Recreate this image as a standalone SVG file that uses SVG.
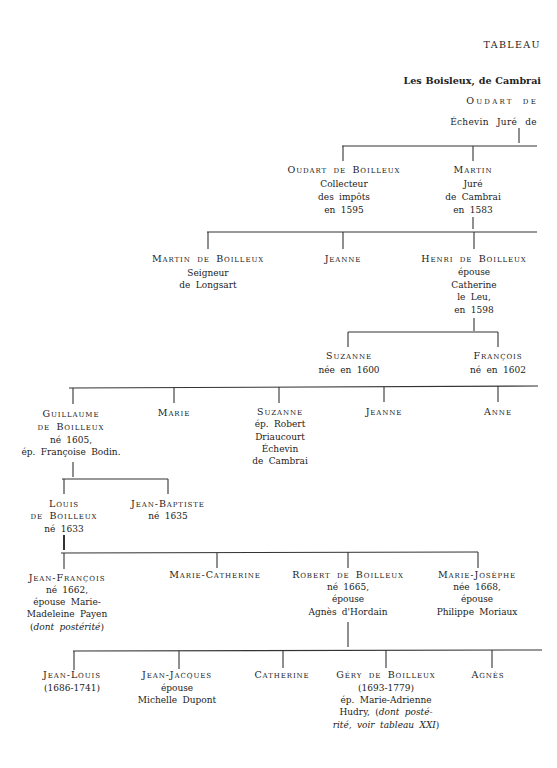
<svg xmlns="http://www.w3.org/2000/svg" width="557" height="768" viewBox="0 0 557 768">
<style>
text{font-family:"DejaVu Serif","Liberation Serif",serif;font-size:9px;fill:#222;text-anchor:middle;word-spacing:2.5px}
.sc{font-variant:small-caps;letter-spacing:0.9px;font-size:9.5px}
.r{text-anchor:end}
.it{font-style:italic}
.b{font-weight:bold;font-size:9.6px;word-spacing:0.5px}
#links line{stroke:#333;stroke-width:1.1}
</style>
<rect width="557" height="768" fill="#fff"/>
<g id="header">
<text x="541" y="48" class="r" style="letter-spacing:1.4px;font-size:9.5px">TABLEAU</text>
<text x="541" y="84" class="r b">Les Boisleux, de Cambrai</text>
<text x="538" y="104" class="r sc" style="letter-spacing:2.2px;word-spacing:4px">Oudart de</text>
<text x="537" y="125" class="r" style="word-spacing:5px;letter-spacing:0.3px">Échevin Juré de</text>
</g>
<g id="links">
<line x1="519" y1="128" x2="519" y2="143"/>
<line x1="342" y1="146" x2="537" y2="146"/>
<line x1="343" y1="146" x2="343" y2="161"/>
<line x1="473" y1="146" x2="473" y2="161"/>
<line x1="473" y1="217" x2="473" y2="229"/>
<line x1="207" y1="232" x2="537" y2="232"/>
<line x1="208" y1="232" x2="208" y2="249"/>
<line x1="343" y1="232" x2="343" y2="249"/>
<line x1="474" y1="232" x2="474" y2="249"/>
<line x1="474" y1="318" x2="474" y2="331"/>
<line x1="348" y1="332" x2="498" y2="332"/>
<line x1="348" y1="332" x2="348" y2="347"/>
<line x1="498" y1="332" x2="498" y2="347"/>
<line x1="69" y1="388" x2="538" y2="386"/>
<line x1="73" y1="388" x2="73" y2="404"/>
<line x1="174" y1="388" x2="174" y2="403"/>
<line x1="279" y1="387" x2="279" y2="403"/>
<line x1="384" y1="387" x2="384" y2="402"/>
<line x1="498" y1="386" x2="498" y2="402"/>
<line x1="73" y1="462" x2="73" y2="477"/>
<line x1="62" y1="479" x2="168" y2="479"/>
<line x1="64" y1="479" x2="64" y2="494"/>
<line x1="168" y1="479" x2="168" y2="494"/>
<line x1="64" y1="535" x2="64" y2="550" style="stroke-width:2"/>
<line x1="61" y1="553" x2="478" y2="552"/>
<line x1="64" y1="553" x2="64" y2="569"/>
<line x1="217" y1="553" x2="217" y2="568"/>
<line x1="348" y1="552" x2="348" y2="568"/>
<line x1="478" y1="552" x2="478" y2="568"/>
<line x1="348" y1="622" x2="348" y2="647"/>
<line x1="73" y1="651" x2="542" y2="650"/>
<line x1="74" y1="651" x2="74" y2="670"/>
<line x1="179" y1="651" x2="179" y2="669"/>
<line x1="283" y1="651" x2="283" y2="668"/>
<line x1="386" y1="650" x2="386" y2="668"/>
<line x1="492" y1="650" x2="492" y2="668"/>
</g>
<g id="oudart">
<text x="344" y="173" class="sc">Oudart de Boilleux</text>
<text x="344" y="187">Collecteur</text>
<text x="344" y="200">des impôts</text>
<text x="344" y="213">en 1595</text>
</g>
<g id="martin">
<text x="473" y="173" class="sc">Martin</text>
<text x="473" y="187">Juré</text>
<text x="473" y="200">de Cambrai</text>
<text x="473" y="213">en 1583</text>
</g>
<g id="martin2">
<text x="208" y="262" class="sc">Martin de Boilleux</text>
<text x="208" y="276">Seigneur</text>
<text x="208" y="288">de Longsart</text>
</g>
<g id="jeanne1">
<text x="343" y="262" class="sc">Jeanne</text>
</g>
<g id="henri">
<text x="474" y="262" class="sc">Henri de Boilleux</text>
<text x="474" y="275">épouse</text>
<text x="474" y="288">Catherine</text>
<text x="474" y="300">le Leu,</text>
<text x="474" y="313">en 1598</text>
</g>
<g id="suzanne1">
<text x="349" y="359" class="sc">Suzanne</text>
<text x="349" y="373">née en 1600</text>
</g>
<g id="francois">
<text x="498" y="359" class="sc">François</text>
<text x="498" y="373">né en 1602</text>
</g>
<g id="guillaume">
<text x="71" y="417" class="sc">Guillaume</text>
<text x="71" y="430" class="sc">de Boilleux</text>
<text x="71" y="443">né 1605,</text>
<text x="71" y="455">ép. Françoise Bodin.</text>
</g>
<g id="marie">
<text x="174" y="416" class="sc">Marie</text>
</g>
<g id="suzanne2">
<text x="280" y="415" class="sc">Suzanne</text>
<text x="280" y="427">ép. Robert</text>
<text x="280" y="440">Driaucourt</text>
<text x="280" y="452">Échevin</text>
<text x="280" y="464">de Cambrai</text>
</g>
<g id="jeanne2">
<text x="384" y="415" class="sc">Jeanne</text>
</g>
<g id="anne">
<text x="498" y="415" class="sc">Anne</text>
</g>
<g id="louis">
<text x="64" y="507" class="sc">Louis</text>
<text x="64" y="519" class="sc">de Boilleux</text>
<text x="64" y="532">né 1633</text>
</g>
<g id="jeanbaptiste">
<text x="168" y="507" class="sc">Jean-Baptiste</text>
<text x="168" y="519">né 1635</text>
</g>
<g id="jeanfrancois">
<text x="67" y="581" class="sc">Jean-François</text>
<text x="67" y="593">né 1662,</text>
<text x="67" y="605">épouse Marie-</text>
<text x="67" y="617">Madeleine Payen</text>
<text x="67" y="630">(<tspan class="it">dont postérité</tspan>)</text>
</g>
<g id="mariecatherine">
<text x="215" y="578" class="sc">Marie-Catherine</text>
</g>
<g id="robert">
<text x="348" y="578" class="sc">Robert de Boilleux</text>
<text x="348" y="590">né 1665,</text>
<text x="348" y="602">épouse</text>
<text x="348" y="615">Agnès d'Hordain</text>
</g>
<g id="mariejosephe">
<text x="477" y="578" class="sc">Marie-Josèphe</text>
<text x="477" y="590">née 1668,</text>
<text x="477" y="602">épouse</text>
<text x="477" y="615">Philippe Moriaux</text>
</g>
<g id="jeanlouis">
<text x="72" y="678" class="sc">Jean-Louis</text>
<text x="72" y="691">(1686-1741)</text>
</g>
<g id="jeanjacques">
<text x="177" y="678" class="sc">Jean-Jacques</text>
<text x="177" y="691">épouse</text>
<text x="177" y="703">Michelle Dupont</text>
</g>
<g id="catherine">
<text x="282" y="678" class="sc">Catherine</text>
</g>
<g id="gery">
<text x="386" y="678" class="sc">Géry de Boilleux</text>
<text x="386" y="691">(1693-1779)</text>
<text x="386" y="703">ép. Marie-Adrienne</text>
<text x="386" y="715">Hudry, (<tspan class="it">dont posté-</tspan></text>
<text x="386" y="728"><tspan class="it">rité, voir tableau XXI</tspan>)</text>
</g>
<g id="agnes">
<text x="488" y="678" class="sc">Agnès</text>
</g>
</svg>
